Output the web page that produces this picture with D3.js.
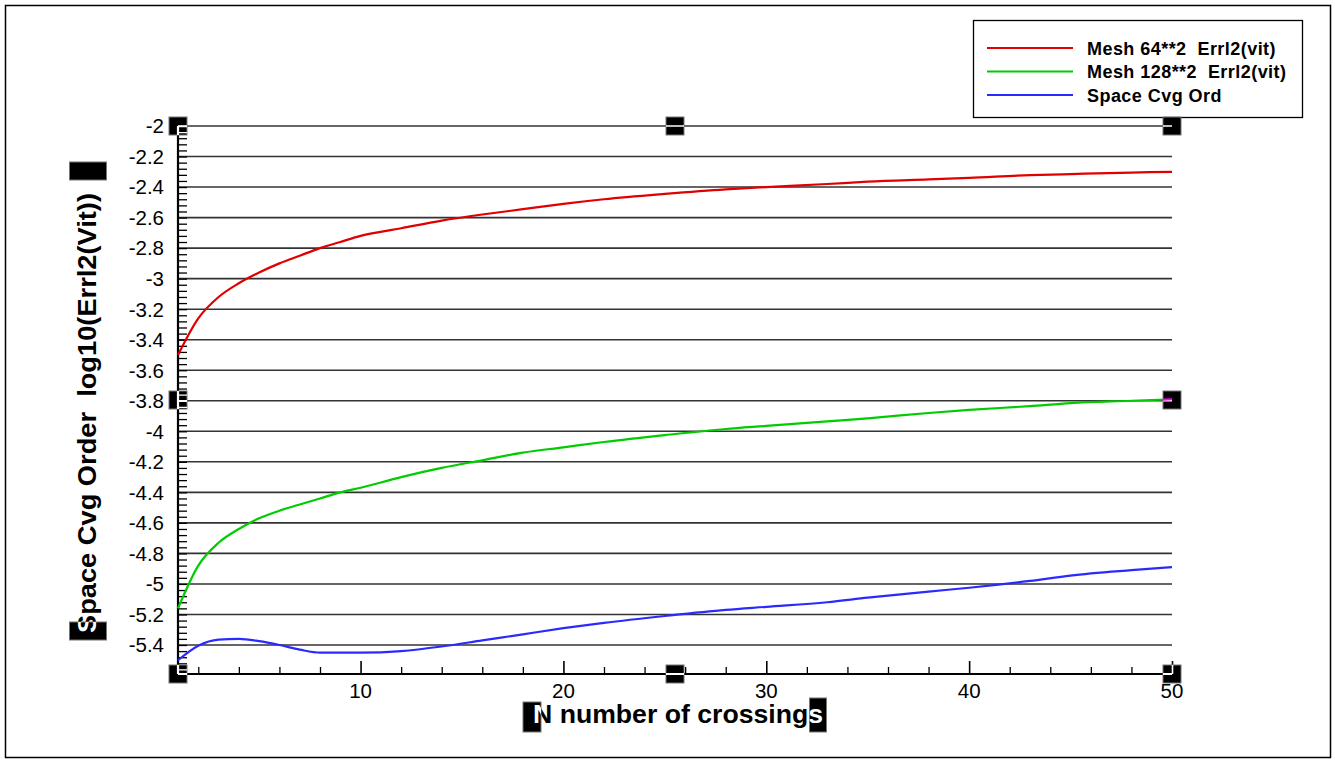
<!DOCTYPE html>
<html><head><meta charset="utf-8">
<script src="https://cdn.jsdelivr.net/npm/d3@7"></script>
<style>body{margin:0;background:#fff}svg{display:block}text{white-space:pre}</style>
</head><body>
<svg id="c" width="1335" height="760"></svg>
<script>
// ---------- data ----------
const nValues  = [1, 2, 3, 4, 5, 6, 7, 8, 9, 10, 12, 14, 16, 18, 20, 22, 25, 28, 30, 33, 35, 38, 40, 43, 45, 48, 50];
const mesh64   = [-3.50, -3.26, -3.12, -3.03, -2.96, -2.90, -2.85, -2.80, -2.76, -2.72, -2.67, -2.62, -2.58, -2.545, -2.51, -2.48, -2.445, -2.415, -2.40, -2.38, -2.365, -2.35, -2.34, -2.322, -2.315, -2.305, -2.30];
const mesh128  = [-5.16, -4.88, -4.73, -4.64, -4.57, -4.52, -4.48, -4.44, -4.40, -4.37, -4.30, -4.24, -4.19, -4.14, -4.105, -4.07, -4.025, -3.985, -3.965, -3.935, -3.915, -3.88, -3.86, -3.835, -3.815, -3.80, -3.79];
const spaceCvg = [-5.50, -5.405, -5.365, -5.36, -5.375, -5.40, -5.43, -5.45, -5.45, -5.45, -5.44, -5.41, -5.37, -5.33, -5.29, -5.255, -5.21, -5.17, -5.15, -5.12, -5.09, -5.05, -5.025, -4.98, -4.945, -4.91, -4.89];
const seriesNames  = ["Mesh 64**2  Errl2(vit)", "Mesh 128**2  Errl2(vit)", "Space Cvg Ord"];
const seriesColors = ["#e00000", "#00cc00", "#2a2aff"];
const yTickLabels  = ["-2", "-2.2", "-2.4", "-2.6", "-2.8", "-3", "-3.2", "-3.4", "-3.6", "-3.8", "-4", "-4.2", "-4.4", "-4.6", "-4.8", "-5", "-5.2", "-5.4"];
const xTickLabels  = ["10", "20", "30", "40", "50"];
const xMinorTicks  = [2, 4, 6, 8, 12, 14, 16, 18, 22, 24, 26, 28, 32, 34, 36, 38, 42, 44, 46, 48];
const xTitle = "N number of crossings";
const yTitle = "Space Cvg Order  log10(Errl2(Vit))";
const xDomain = [1, 50];
const yDomain = [-5.59, -2];

// ---------- setup ----------
const svg = d3.select("#c");
const FONT = "Arial, 'Liberation Sans', Helvetica, sans-serif";
const x = d3.scaleLinear().domain(xDomain).range([178, 1172]);
const y = d3.scaleLinear().domain(yDomain).range([674, 126]);
const yTickVals = yTickLabels.map(Number);
const xTickVals = xTickLabels.map(Number);
const yMinor = d3.range(0, 90).map(i => -2 - 0.04 * i).filter(v => v >= yDomain[0] - 1e-9);
const series = [mesh64, mesh128, spaceCvg];

// outer frame
svg.append("rect").attr("x", 5.5).attr("y", 5.5).attr("width", 1325).attr("height", 752)
  .attr("fill", "#fff").attr("stroke", "#000").attr("stroke-width", 1.5);

const line = d3.line().x((d, i) => x(nValues[i])).y(d => y(d)).curve(d3.curveMonotoneX);

function drawFrame(g, col, curveCols) {
  g.append("g").selectAll("line").data(yTickVals).join("line")
    .attr("x1", x(xDomain[0])).attr("x2", x(xDomain[1]))
    .attr("y1", d => y(d)).attr("y2", d => y(d))
    .attr("stroke", col === "#000" ? "#333" : col).attr("stroke-width", 1.6);
  const ya = g.append("g").attr("transform", `translate(${x(xDomain[0])},0)`)
    .call(d3.axisRight(y).tickValues(yMinor).tickSize(9).tickSizeOuter(0).tickFormat(""));
  ya.select(".domain").remove();
  ya.selectAll("line").attr("stroke", col).attr("stroke-width", 1.3);
  const xa = g.append("g").attr("transform", `translate(0,${y(yDomain[0])})`)
    .call(d3.axisTop(x).tickValues(xMinorTicks).tickSize(7).tickSizeOuter(0).tickFormat(""));
  xa.select(".domain").remove();
  xa.selectAll("line").attr("stroke", col).attr("stroke-width", 1.3);
  const xb = g.append("g").attr("transform", `translate(0,${y(yDomain[0])})`)
    .call(d3.axisTop(x).tickValues(xTickVals).tickSize(13).tickSizeOuter(0).tickFormat(""));
  xb.select(".domain").remove();
  xb.selectAll("line").attr("stroke", col).attr("stroke-width", 1.6);
  g.append("line").attr("x1", x(xDomain[0])).attr("x2", x(xDomain[0]))
    .attr("y1", y(yDomain[1])).attr("y2", y(yDomain[0])).attr("stroke", col).attr("stroke-width", 2.2);
  g.append("line").attr("x1", x(xDomain[0])).attr("x2", x(xDomain[1]))
    .attr("y1", y(yDomain[0])).attr("y2", y(yDomain[0])).attr("stroke", col).attr("stroke-width", 2.2);
  series.forEach((s, i) => {
    if (!curveCols[i]) return;
    g.append("path").datum(s).attr("d", line).attr("fill", "none")
      .attr("stroke", curveCols[i]).attr("stroke-width", 2.2);
  });
}

const main = svg.append("g");
drawFrame(main, "#000", seriesColors);

// tick labels
svg.append("g").selectAll("text").data(yTickLabels).join("text")
  .attr("x", 164).attr("y", d => y(+d)).attr("dy", "0.36em")
  .attr("text-anchor", "end").attr("font-family", FONT).attr("font-size", 20.5)
  .text(d => d);
svg.append("g").selectAll("text").data(xTickLabels).join("text")
  .attr("x", d => x(+d)).attr("y", 698)
  .attr("text-anchor", "middle").attr("font-family", FONT).attr("font-size", 20.5)
  .text(d => d);

// axis titles
function titles(g, col) {
  g.append("text").attr("x", 678).attr("y", 723).attr("text-anchor", "middle")
    .attr("font-family", FONT).attr("font-weight", "bold").attr("font-size", 25)
    .attr("textLength", 290).attr("lengthAdjust", "spacingAndGlyphs")
    .attr("fill", col).text(xTitle);
  g.append("text").attr("transform", "translate(96,413) rotate(-90)").attr("text-anchor", "middle")
    .attr("font-family", FONT).attr("font-weight", "bold").attr("font-size", 25)
    .attr("textLength", 440).attr("lengthAdjust", "spacingAndGlyphs")
    .attr("fill", col).text(yTitle);
}
titles(svg.append("g"), "#000");

// legend
const lg = svg.append("g");
lg.append("rect").attr("x", 973.5).attr("y", 20.5).attr("width", 329).attr("height", 97)
  .attr("fill", "#fff").attr("stroke", "#000").attr("stroke-width", 1.3);
seriesNames.forEach((name, i) => {
  const yy = 48 + i * 23.5;
  lg.append("line").attr("x1", 987).attr("x2", 1073).attr("y1", yy).attr("y2", yy)
    .attr("stroke", seriesColors[i]).attr("stroke-width", 2.2);
  lg.append("text").attr("x", 1087).attr("y", yy + 6.5)
    .attr("font-family", FONT).attr("font-weight", "bold").attr("font-size", 18)
    .attr("letter-spacing", 0.45)
    .text(name);
});

// selection handles (decorative)
const xm = (x.range()[0] + x.range()[1]) / 2, ym = (y.range()[0] + y.range()[1]) / 2;
const handles = [
  [x(1), y(-2), 18, 18], [xm, y(-2), 18, 18], [x(50), y(-2), 18, 18],
  [x(1), ym, 18, 18], [x(50), ym, 18, 18],
  [x(1), y(yDomain[0]), 18, 18], [xm, y(yDomain[0]), 18, 18], [x(50), y(yDomain[0]), 18, 18],
  [88, 171, 37, 18], [88, 631, 37, 18], [532, 717, 18, 30], [818, 715, 17, 34]
];
const defs = svg.append("defs");
const cp = defs.append("clipPath").attr("id", "hclip");
handles.forEach(h => cp.append("rect").attr("x", h[0] - h[2] / 2).attr("y", h[1] - h[3] / 2)
  .attr("width", h[2]).attr("height", h[3]));
svg.append("g").selectAll("rect").data(handles).join("rect")
  .attr("x", h => h[0] - h[2] / 2).attr("y", h => h[1] - h[3] / 2)
  .attr("width", h => h[2]).attr("height", h => h[3])
  .attr("fill", "#000").attr("stroke", "#777").attr("stroke-width", 1);
const inv = svg.append("g").attr("clip-path", "url(#hclip)");
drawFrame(inv, "#fff", [null, "#ff00ff", null]);
titles(inv, "#fff");
</script>
</body></html>
